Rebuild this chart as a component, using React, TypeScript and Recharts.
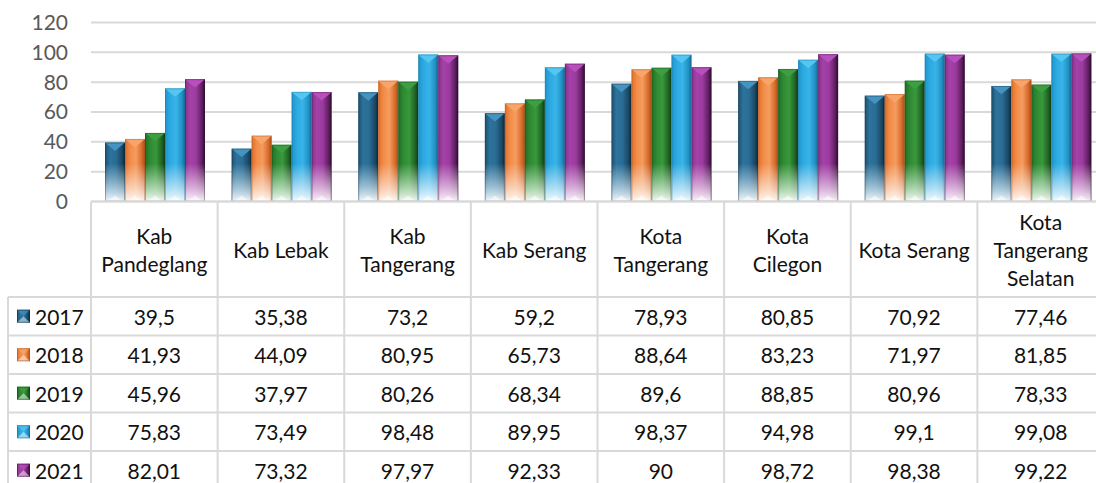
import React from 'react';
import { BarChart, Bar, XAxis, YAxis, CartesianGrid } from 'recharts';

const categories = ['Kab Pandeglang', 'Kab Lebak', 'Kab Tangerang', 'Kab Serang', 'Kota Tangerang', 'Kota Cilegon', 'Kota Serang', 'Kota Tangerang Selatan'];
const categoryLines = [['Kab', 'Pandeglang'], ['Kab Lebak'], ['Kab', 'Tangerang'], ['Kab Serang'], ['Kota', 'Tangerang'], ['Kota', 'Cilegon'], ['Kota Serang'], ['Kota', 'Tangerang', 'Selatan']];
const seriesNames = ['2017', '2018', '2019', '2020', '2021'];
const v2017 = [39.5, 35.38, 73.2, 59.2, 78.93, 80.85, 70.92, 77.46];
const v2018 = [41.93, 44.09, 80.95, 65.73, 88.64, 83.23, 71.97, 81.85];
const v2019 = [45.96, 37.97, 80.26, 68.34, 89.6, 88.85, 80.96, 78.33];
const v2020 = [75.83, 73.49, 98.48, 89.95, 98.37, 94.98, 99.1, 99.08];
const v2021 = [82.01, 73.32, 97.97, 92.33, 90, 98.72, 98.38, 99.22];
const seriesValues = [v2017, v2018, v2019, v2020, v2021];
const yTicks = [0, 20, 40, 60, 80, 100, 120];

const data = categories.map((c, i) => {
  const row: any = { name: c };
  seriesNames.forEach((s, k) => { row[s] = seriesValues[k][i]; });
  return row;
});

// styling / layout
const FONT = 'Lato, "Liberation Sans", sans-serif';
const CHART_W = 1104;
const CHART_H = 520;
const YAXIS_W = 91;
const BW = (CHART_W - YAXIS_W) / categories.length;
const HEADER_H = 95.5;
const ROW_H = 38.5;
const BORDER = '#d9d9d9';
const TEXT = '#111111';
const FS = 21;

const palettes = [
  { stops: ['#1d5070', '#2d739c', '#2a6c94', '#1a4763', '#0b2535'], cap: '#4593c0', fadeTo: '#cfe6f2', outline: '#0f3046' },
  { stops: ['#de6d2b', '#f28c47', '#f49c5f', '#d5692a', '#a64d14'], cap: '#f8a56c', fadeTo: '#fde9dc', outline: '#b0561a' },
  { stops: ['#1f6e24', '#2f8a33', '#38983b', '#206224', '#0f3a12'], cap: '#3d9f41', fadeTo: '#d8f0d8', outline: '#134417' },
  { stops: ['#1e93cb', '#2ca9e1', '#38b4e9', '#2190c4', '#156790'], cap: '#55c6f1', fadeTo: '#dff2fb', outline: '#15709b' },
  { stops: ['#86308a', '#a442a7', '#9c3b9f', '#5e1f60', '#2a0b2b'], cap: '#b94fbd', fadeTo: '#f0dcf0', outline: '#3e1240' },
];
const stopOffsets = [0, 0.25, 0.55, 0.85, 1];

const Bar3D = (props: any) => {
  const { x, y, width: w, height: h, s, index } = props;
  if (!h || h <= 0) return null;
  const p = palettes[s];
  const bottom = y + h;
  const fid = `fade-${s}-${index}`;
  const capH = Math.min(w * 0.42, h);
  return (
    <g>
      <defs>
        <linearGradient id={fid} gradientUnits="userSpaceOnUse" x1={0} y1={bottom - 38} x2={0} y2={bottom}>
          <stop offset="0" stopColor={p.fadeTo} stopOpacity={0} />
          <stop offset="0.55" stopColor={p.fadeTo} stopOpacity={0.6} />
          <stop offset="1" stopColor="#ffffff" stopOpacity={0.95} />
        </linearGradient>
      </defs>
      <rect x={x} y={y} width={w} height={h} fill={`url(#hg${s})`} />
      <rect x={x} y={y} width={w} height={h} fill={`url(#${fid})`} />
      <polygon points={`${x},${y} ${x + w},${y} ${x + w / 2},${y + capH}`} fill={p.cap} />
      <polygon points={`${x + 2},${bottom} ${x + w - 2},${bottom} ${x + w / 2},${bottom - w * 0.3}`} fill="#ffffff" opacity={0.55} />
      <rect x={x + 0.5} y={y + 0.5} width={w - 1} height={h - 1} fill="none" stroke={p.outline} strokeOpacity={0.35} strokeWidth={1} />
    </g>
  );
};

const LegendKey = ({ x, y, s }: any) => {
  const size = 13;
  const p = palettes[s];
  return (
    <g>
      <rect x={x} y={y} width={size} height={size} fill={`url(#hg${s})`} />
      <polygon points={`${x},${y} ${x + size},${y} ${x + size / 2},${y + size / 2}`} fill={p.cap} opacity={0.7} />
      <polygon points={`${x},${y + size} ${x + size},${y + size} ${x + size / 2},${y + size / 2}`} fill={p.fadeTo} opacity={0.6} />
      <rect x={x + 0.5} y={y + 0.5} width={size - 1} height={size - 1} fill="none" stroke={p.outline} strokeOpacity={0.5} />
    </g>
  );
};

const fmt = (v: number) => String(v).replace('.', ',');

const TableTick = (props: any) => {
  const { x, y, index } = props;
  const left = x - BW / 2;
  const right = x + BW / 2;
  const top = y;
  const headerBottom = top + HEADER_H;
  const bottom = headerBottom + ROW_H * seriesNames.length;
  const lines = categoryLines[index] || [];
  const lh = 28;
  const startY = top + HEADER_H / 2 - ((lines.length - 1) * lh) / 2;
  const lineProps = { stroke: BORDER, strokeWidth: 2 };
  return (
    <g>
      {index === 0 && (
        <g>
          <line x1={8} y1={headerBottom} x2={left} y2={headerBottom} {...lineProps} />
          <line x1={8} y1={headerBottom} x2={8} y2={bottom} {...lineProps} />
          {seriesNames.map((s, k) => {
            const cy = headerBottom + ROW_H * k + ROW_H / 2;
            return (
              <g key={s}>
                <line x1={8} y1={headerBottom + ROW_H * (k + 1)} x2={left} y2={headerBottom + ROW_H * (k + 1)} {...lineProps} />
                <LegendKey x={17} y={cy - 6.5} s={k} />
                <text x={35} y={cy} dominantBaseline="central" fontSize={FS} fill={TEXT} fontFamily={FONT}>{s}</text>
              </g>
            );
          })}
        </g>
      )}
      <line x1={left} y1={top} x2={right} y2={top} {...lineProps} />
      <line x1={left} y1={top} x2={left} y2={bottom} {...lineProps} />
      {index === categories.length - 1 && <line x1={right} y1={top} x2={right} y2={bottom} {...lineProps} />}
      <line x1={left} y1={headerBottom} x2={right} y2={headerBottom} {...lineProps} />
      {lines.map((l: string, i: number) => (
        <text key={i} x={x} y={startY + i * lh} textAnchor="middle" dominantBaseline="central" fontSize={FS} fill={TEXT} fontFamily={FONT}>{l}</text>
      ))}
      {seriesValues.map((vals, k) => {
        const cy = headerBottom + ROW_H * k + ROW_H / 2;
        return (
          <g key={k}>
            <line x1={left} y1={headerBottom + ROW_H * (k + 1)} x2={right} y2={headerBottom + ROW_H * (k + 1)} {...lineProps} />
            <text x={x} y={cy} textAnchor="middle" dominantBaseline="central" fontSize={FS} fill={TEXT} fontFamily={FONT}>{fmt(vals[index])}</text>
          </g>
        );
      })}
    </g>
  );
};

export default function App() {
  return (
    <div style={{ position: 'fixed', left: 0, top: 0, width: 1096, height: 483, overflow: 'hidden', background: '#ffffff' }}>
      <BarChart
        width={CHART_W}
        height={CHART_H}
        data={data}
        margin={{ top: 22.5, right: 0, bottom: 0, left: 0 }}
        barCategoryGap={14}
        barGap={0}
        style={{ fontFamily: FONT }}
      >
        <defs>
          {palettes.map((p, s) => (
            <linearGradient key={s} id={`hg${s}`} x1="0" y1="0" x2="1" y2="0">
              {p.stops.map((c, i) => (
                <stop key={i} offset={stopOffsets[i]} stopColor={c} />
              ))}
            </linearGradient>
          ))}
        </defs>
        <CartesianGrid vertical={false} stroke={BORDER} strokeWidth={2} />
        <YAxis
          width={YAXIS_W}
          domain={[0, 120]}
          ticks={yTicks}
          interval={0}
          axisLine={false}
          tickLine={false}
          tickSize={0}
          tickMargin={23}
          tick={{ fontSize: FS, fill: '#595959', fontFamily: FONT }}
        />
        <XAxis
          dataKey="name"
          height={CHART_H - 201.5}
          axisLine={false}
          tickLine={false}
          tickSize={0}
          tickMargin={0}
          interval={0}
          tick={<TableTick />}
        />
        {seriesNames.map((s, k) => (
          <Bar key={s} dataKey={s} isAnimationActive={false} shape={(p: any) => <Bar3D {...p} s={k} />} />
        ))}
      </BarChart>
    </div>
  );
}
